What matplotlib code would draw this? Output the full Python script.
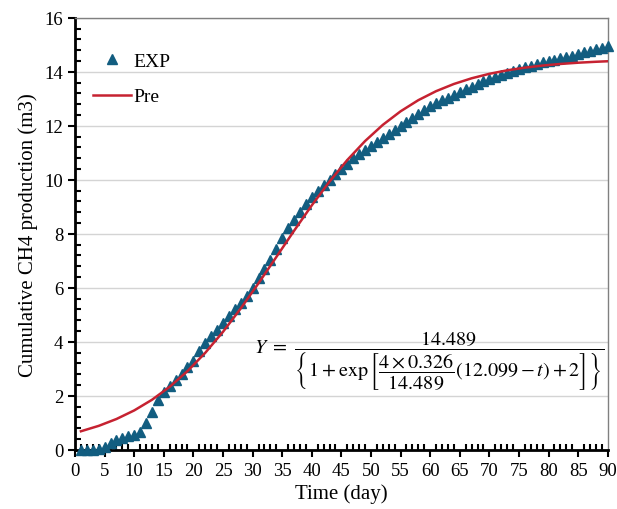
import matplotlib
matplotlib.use("Agg")
import matplotlib.pyplot as plt
from matplotlib.ticker import MultipleLocator

plt.rcParams['font.family'] = ['Liberation Serif', 'DejaVu Serif']
plt.rcParams['mathtext.fontset'] = 'stix'

# Experimental data (day, cumulative CH4 m3)
exp_t = list(range(1, 91))
exp_y = [0.0, 0.0, 0.0, 0.02, 0.1, 0.25, 0.35, 0.45, 0.5, 0.55,
         0.65, 1.0, 1.4, 1.85, 2.15, 2.35, 2.6, 2.8, 3.05, 3.3,
         3.65, 3.95, 4.2, 4.45, 4.7, 4.95, 5.2, 5.45, 5.7, 6.0,
         6.35, 6.7, 7.05, 7.45, 7.85, 8.2, 8.5, 8.8, 9.1, 9.35,
         9.6, 9.8, 10.0, 10.2, 10.4, 10.6, 10.8, 10.95, 11.1, 11.25,
         11.4, 11.55, 11.7, 11.85, 12.0, 12.15, 12.3, 12.45, 12.6, 12.75,
         12.85, 12.95, 13.05, 13.15, 13.25, 13.35, 13.45, 13.55, 13.65, 13.75,
         13.82, 13.9, 13.97, 14.04, 14.1, 14.17, 14.23, 14.3, 14.35, 14.4,
         14.45, 14.5, 14.55, 14.6, 14.66, 14.72, 14.78, 14.84, 14.9, 14.96]

# Predicted curve
pre_t = [1, 4, 7, 10, 13, 16, 19, 22, 25, 28, 31, 34, 37, 40, 43, 46,
         49, 52, 55, 58, 61, 64, 67, 70, 73, 76, 79, 82, 85, 88, 90]
pre_y = [0.688, 0.888, 1.142, 1.460, 1.854, 2.337, 2.915, 3.594, 4.372,
         5.238, 6.171, 7.140, 8.113, 9.056, 9.938, 10.736, 11.437, 12.037,
         12.539, 12.952, 13.285, 13.551, 13.762, 13.928, 14.057, 14.156,
         14.234, 14.293, 14.339, 14.374, 14.393]

x_ticks = list(range(0, 91, 5))
y_ticks = list(range(0, 17, 2))

fig = plt.figure(figsize=(6.17, 5.10), dpi=100)
ax = fig.add_axes([0.1216, 0.116, 0.8634, 0.847])

ax.grid(axis='y', color='#d4d4d4', linewidth=1.0, zorder=0)
ax.set_axisbelow(True)

ax.plot(exp_t, exp_y, linestyle='none', marker='^', markersize=7.5,
        color='#125d80', label='EXP', zorder=3, clip_on=False)
ax.plot(pre_t, pre_y, color='#c62231', linewidth=1.8, label='Pre', zorder=4)

ax.set_xlim(0, 90)
ax.set_ylim(0, 16)
ax.set_xticks(x_ticks)
ax.set_yticks(y_ticks)
ax.xaxis.set_minor_locator(MultipleLocator(1))
ax.yaxis.set_minor_locator(MultipleLocator(0.4))
ax.tick_params(axis='both', which='major', direction='out', length=5, width=1.5,
               labelsize=13.5, colors='black')
ax.tick_params(axis='both', which='minor', direction='in', length=4, width=1.5)
ax.tick_params(top=False, right=False, which='both')

for side in ['left', 'bottom']:
    ax.spines[side].set_linewidth(2)
    ax.spines[side].set_color('black')
for side in ['top', 'right']:
    ax.spines[side].set_linewidth(1)
    ax.spines[side].set_color('#808080')

ax.set_xlabel('Time (day)', fontsize=15, labelpad=3)
ax.set_ylabel('Cumulative CH4 production (m3)', fontsize=15, labelpad=5)

leg = ax.legend(loc='upper left', bbox_to_anchor=(0.0, 0.96), frameon=False,
                fontsize=14, handlelength=2.0, handletextpad=0.1,
                labelspacing=0.9, borderaxespad=0.5)

formula = (r'$Y\ =\ \dfrac{14.489}{\left\{1+\exp\left[\dfrac{4\times0.326}{14.489}'
           r'\left(12.099-t\right)+2\right]\right\}}$')
ax.text(0.664, 0.208, formula, transform=ax.transAxes, fontsize=14.5,
        ha='center', va='center', zorder=5)

fig.savefig('out.png', dpi=100)
